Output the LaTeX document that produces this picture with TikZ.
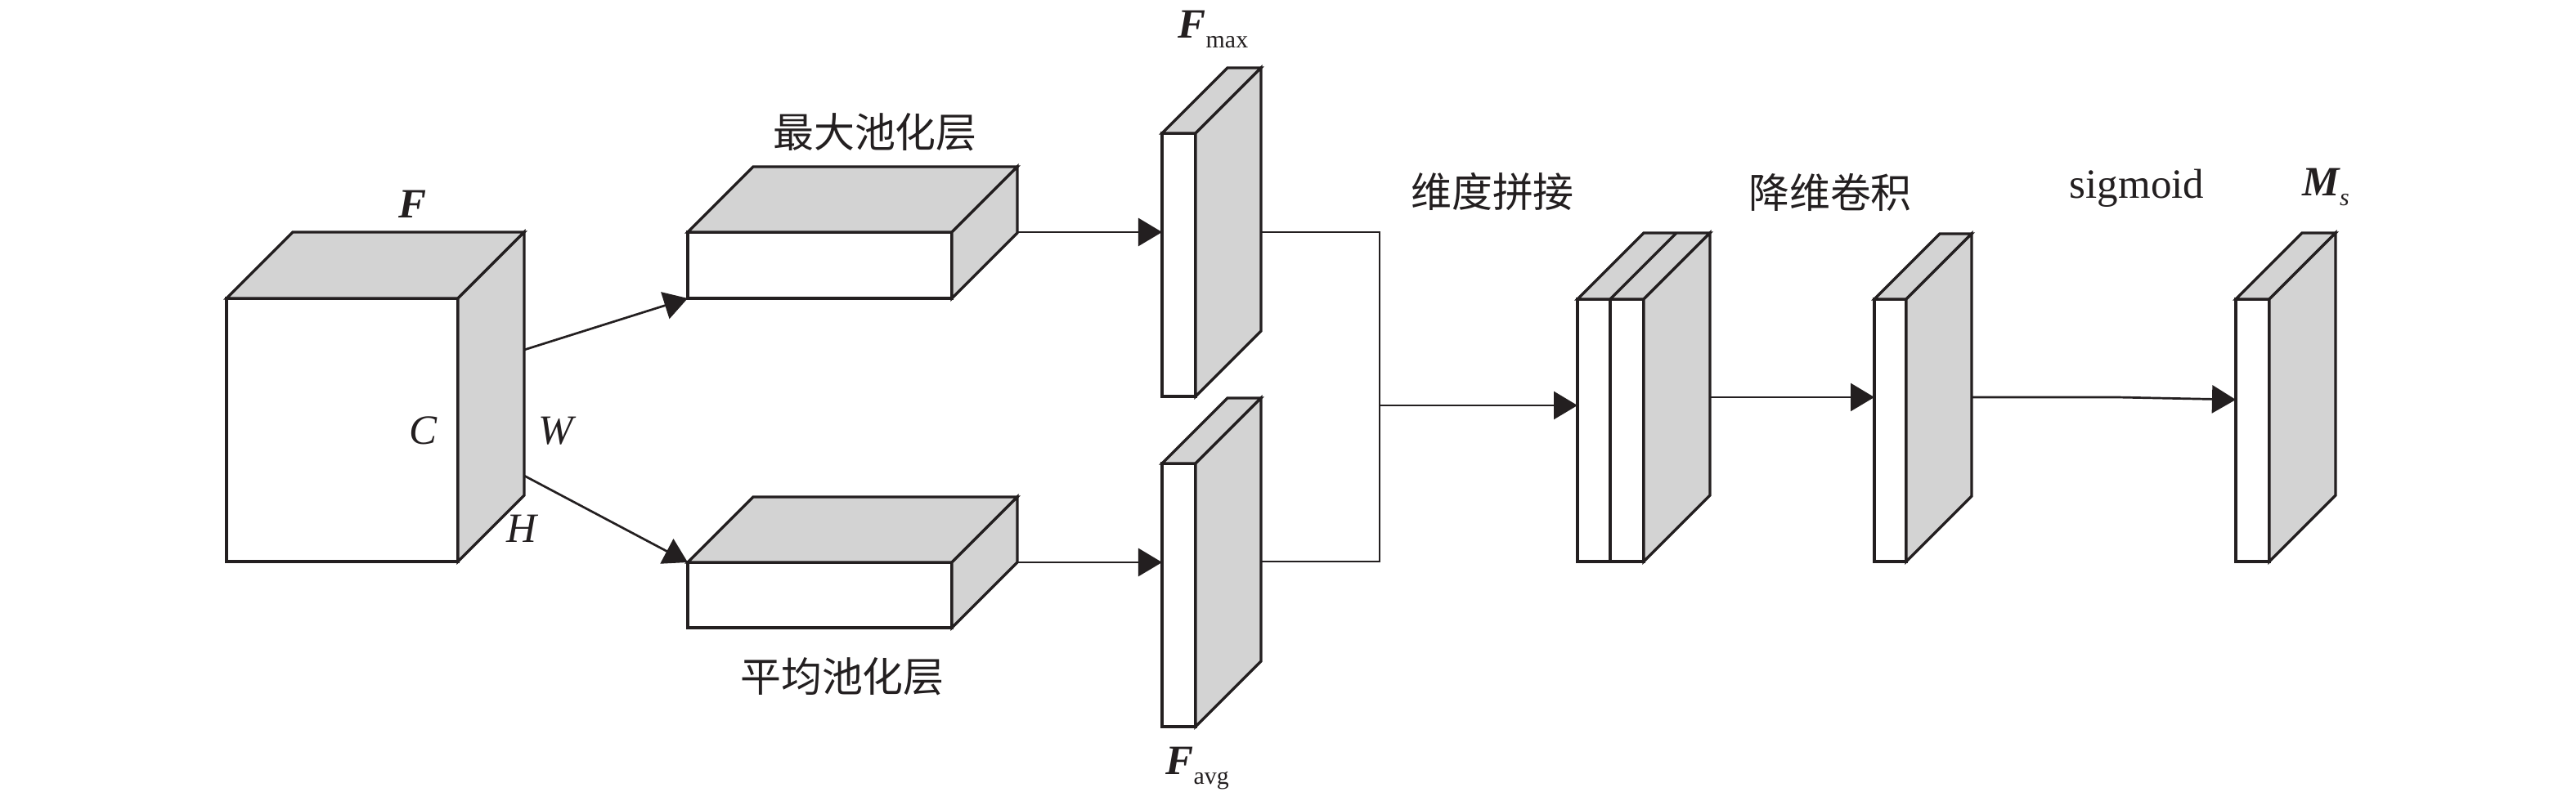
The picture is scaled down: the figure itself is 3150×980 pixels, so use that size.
\documentclass[tikz,border=0pt]{standalone}
\usepackage{fontspec}
\setmainfont{Liberation Serif}
\newfontfamily\cjk{Noto Sans CJK SC}
\usetikzlibrary{arrows.meta}
\definecolor{shade}{RGB}{211,211,211}
\definecolor{ink}{RGB}{35,31,32}
\tikzset{
  box/.style={draw=ink, line width=0.033cm, line join=miter},
  conn/.style={draw=ink, line width=0.027cm},
  arr/.style={conn, -{Triangle[length=0.29cm,width=0.34cm]}},
  lbl/.style={inner sep=0pt, font=\fontsize{14.5}{17}\selectfont, text=ink},
  cn/.style={inner sep=0pt, font=\fontsize{14.2}{17}\selectfont\cjk, text=ink},
}
\newcommand\subtxt[1]{\raisebox{-0.12cm}{\normalfont\fontsize{8.5}{10}\selectfont #1}}
% name, x1, y1, x2, y2, depth
\newcommand\prism[6]{%
  \draw[box, fill=white] (#2,#3) rectangle (#4,#5);
  \draw[box, fill=shade] (#2,#3) -- ({#2+#6},{#3-#6}) -- ({#4+#6},{#3-#6}) -- (#4,#3) -- cycle;
  \draw[box, fill=shade] (#4,#3) -- ({#4+#6},{#3-#6}) -- ({#4+#6},{#5-#6}) -- (#4,#5) -- cycle;
  \coordinate (#1-ftl) at (#2,#3);
  \coordinate (#1-fbl) at (#2,#5);
}
\begin{document}
\begin{tikzpicture}[x=0.01cm, y=-0.01cm]
\useasboundingbox (0,0) rectangle (3150,980);

% blocks
\prism{cube}{277}{365}{560}{687}{81}
\prism{maxp}{841}{284}{1164}{365}{80}
\prism{avgp}{841}{688}{1164}{768}{80}
\prism{fmax}{1421}{163}{1462}{485}{80}
\prism{favg}{1421}{567}{1462}{889}{80}
\prism{cat}{1929}{366}{2010}{687}{81}
\draw[box] (1969,366) -- (1969,687);
\draw[box] (1969,366) -- (2050,285);
\prism{conv}{2292}{366}{2331}{687}{80}
\prism{ms}{2734}{366}{2775}{687}{81}

% connection points
\coordinate (cubeU) at (641,428);
\coordinate (cubeD) at (641,582);
\coordinate (maxOut) at (1244,284);
\coordinate (avgOut) at (1244,688);
\coordinate (fmaxIn) at (1421,284);
\coordinate (favgIn) at (1421,688);
\coordinate (fmaxOut) at (1541,284);
\coordinate (favgOut) at (1541,687);
\coordinate (jTop) at (1687,284);
\coordinate (jBot) at (1687,687);
\coordinate (jMid) at (1687,496);
\coordinate (catIn) at (1929,496);
\coordinate (catOut) at (2091,486);
\coordinate (convIn) at (2292,486);
\coordinate (convOut) at (2411,486);
\coordinate (bend) at (2588,486);
\coordinate (msIn) at (2734,489);

% connectors
\draw[arr] (cubeU) -- (maxp-fbl);
\draw[arr] (cubeD) -- (avgp-ftl);
\draw[arr] (maxOut) -- (fmaxIn);
\draw[arr] (avgOut) -- (favgIn);
\draw[conn] (fmaxOut) -- (jTop) -- (jBot) -- (favgOut);
\draw[arr] (jMid) -- (catIn);
\draw[arr] (catOut) -- (convIn);
\draw[arr] (convOut) -- (bend) -- (msIn);

% labels
\node[lbl] (lF) at (505,250) {\bfseries\itshape F};
\node[lbl] (lC) at (518,527) {\itshape C};
\node[lbl] (lW) at (680,527) {\itshape W};
\node[lbl] (lH) at (638,647) {\itshape H};
\node[cn] (lmax) at (1070,162) {最大池化层};
\node[cn] (lavg) at (1030,828) {平均池化层};
\node[lbl, anchor=base west] (lFmax) at (1440,47) {{\bfseries\itshape F}\subtxt{max}};
\node[lbl, anchor=base west] (lFavg) at (1425,948) {{\bfseries\itshape F}\subtxt{avg}};
\node[cn] (lcat) at (1825,235) {维度拼接};
\node[cn] (lconv) at (2238,235) {降维卷积};
\node[lbl, anchor=base] (lsig) at (2613,243) {sigmoid};
\node[lbl, anchor=base west] (lMs) at (2815,240) {{\bfseries\itshape M}\subtxt{\itshape s}};
\end{tikzpicture}
\end{document}
